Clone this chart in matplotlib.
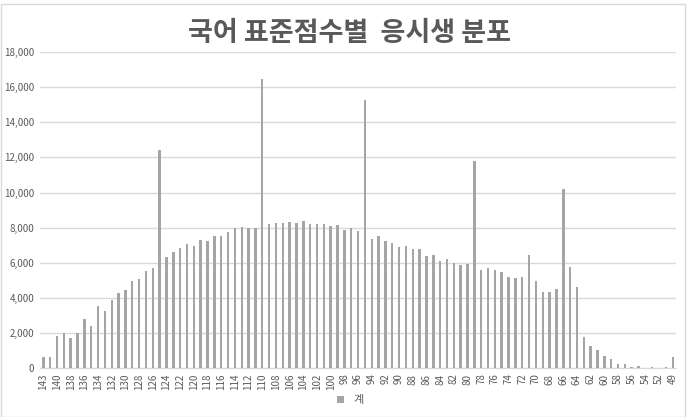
import numpy as np
import matplotlib
matplotlib.use('Agg')
import matplotlib.pyplot as plt
from matplotlib.patches import Rectangle

plt.rcParams['font.family'] = ['Noto Sans CJK KR', 'DejaVu Sans']

# standard scores (143 down to 49) and number of test takers
scores = [143, 141] + list(range(140, 51, -1)) + [50, 49]
counts = [
    650, 650,                                   # 143, 141
    1820, 1970, 1690, 1970, 2790, 2410, 3530, 3250, 3870, 4270,   # 140-131
    4420, 4930, 5070, 5520, 5680, 12410, 6300, 6590, 6830, 7040,  # 130-121
    6970, 7290, 7230, 7520, 7520, 7760, 7970, 8030, 7970, 7980,   # 120-111
    16460, 8180, 8290, 8290, 8310, 8290, 8370, 8200, 8200, 8180,  # 110-101
    8100, 8140, 7880, 7950, 7780, 15260, 7360, 7520, 7230, 7140,  # 100-91
    6890, 6950, 6780, 6780, 6380, 6420, 6110, 6210, 5980, 5880,   # 90-81
    5940, 11790, 5600, 5690, 5560, 5470, 5200, 5130, 5160, 6420,  # 80-71
    4950, 4350, 4350, 4500, 10210, 5770, 4630, 1780, 1260, 1030,  # 70-61
    670, 510, 250, 250, 80, 140, 20, 40, 20,                      # 60-52
    40, 640,                                    # 50, 49
]
series_name = '계'
title = '국어 표준점수별  응시생 분포'

fig = plt.figure(figsize=(7, 4.17), dpi=100)
fig.patches.append(Rectangle((0.002, 0.0), 0.976, 0.99, transform=fig.transFigure,
                             fill=False, edgecolor='#D9D9D9', linewidth=1))
ax = fig.add_axes([0.057, 0.1175, 0.909, 0.7575])

x = np.arange(len(scores))
ax.bar(x, counts, width=0.36, color='#A5A5A5', label=series_name, zorder=3)

ax.set_xlim(-0.5, len(scores) - 0.5)
ax.set_ylim(0, 18000)
ax.set_yticks(np.arange(0, 18001, 2000))
ax.set_yticklabels(['{:,}'.format(v) for v in range(0, 18001, 2000)])
ax.set_xticks(x[::2])
ax.set_xticklabels([str(s) for s in scores[::2]], rotation=90)

ax.grid(axis='y', color='#D9D9D9', linewidth=1, zorder=0)
for sp in ['top', 'right', 'left']:
    ax.spines[sp].set_visible(False)
ax.spines['bottom'].set_color('#D9D9D9')
ax.tick_params(axis='both', length=0, labelsize=7, colors='#595959', pad=4)

fig.text(0.5, 0.922, title, ha='center', va='center', fontsize=19.5,
         fontweight='bold', color='#595959')

fig.legend(loc='center', bbox_to_anchor=(0.5, 0.04), frameon=False,
           fontsize=8, handlelength=0.7, handleheight=0.7, labelcolor='#595959')

fig.savefig('out.png', dpi=100)
